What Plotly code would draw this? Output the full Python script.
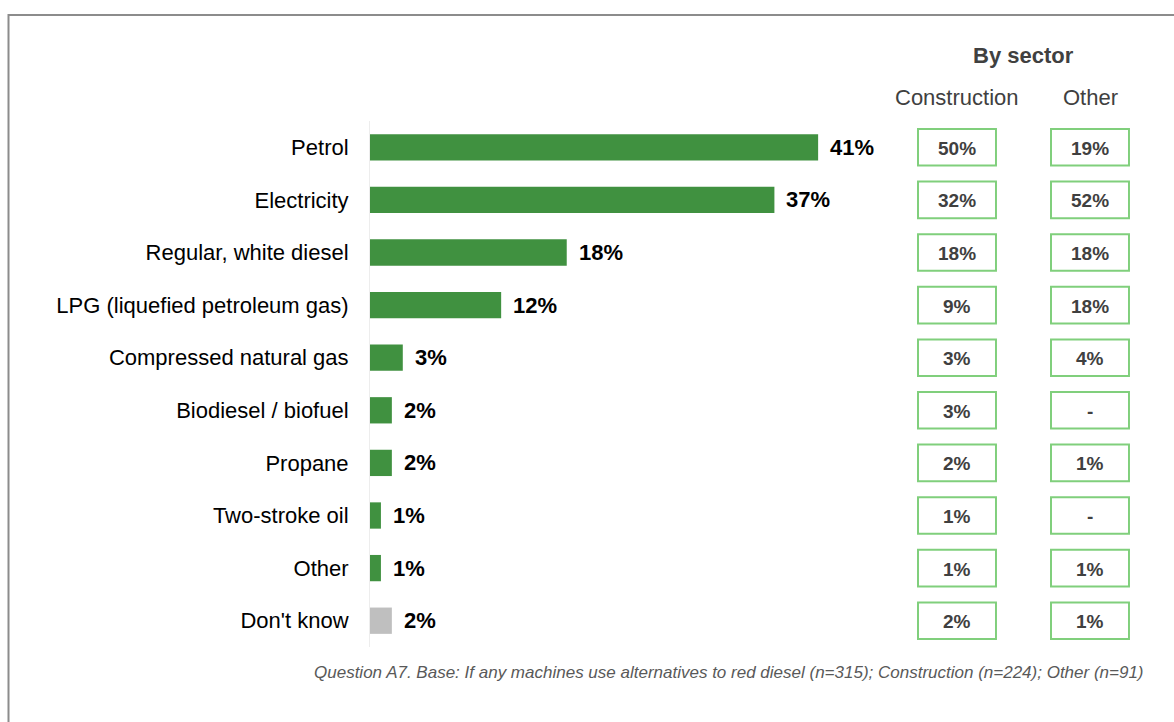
import plotly.graph_objects as go

# Fuel types used by machines, share of respondents
categories = [
    "Petrol",
    "Electricity",
    "Regular, white diesel",
    "LPG (liquefied petroleum gas)",
    "Compressed natural gas",
    "Biodiesel / biofuel",
    "Propane",
    "Two-stroke oil",
    "Other",
    "Don't know",
]
total_pct = [41, 37, 18, 12, 3, 2, 2, 1, 1, 2]
construction_pct = [50, 32, 18, 9, 3, 3, 2, 1, 1, 2]
other_pct = [19, 52, 18, 18, 4, None, 1, None, 1, 1]
sectors = ["Construction", "Other"]

footnote = ("Question A7. Base: If any machines use alternatives to red diesel (n=315); "
            "Construction (n=224); Other (n=91)")

FONT = "Liberation Sans, Arial, sans-serif"
GREEN = "#409140"
GREY_BAR = "#bfbfbf"
BOX_LINE = "#80cf7c"
DARK = "#404040"

W, H = 1174, 722
ML, MR, MT, MB = 370, 0, 120.7, 74.7
plot_w = W - ML - MR
plot_h = H - MT - MB
px_per_pct = 10.93

bar_colors = [GREY_BAR if c == "Don't know" else GREEN for c in categories]

def fmt(v):
    return "-" if v is None else f"{v}%"

# sector columns on a second, categorical x axis
col_left, col_right = 890.5, 1156.5
dom2 = [(col_left - ML) / plot_w, (col_right - ML) / plot_w]
dom1_end = 0.64

fig = go.Figure()
fig.add_trace(go.Bar(
    x=total_pct, y=categories, orientation="h",
    marker=dict(color=bar_colors, line=dict(width=0)),
    width=0.5, hoverinfo="skip", showlegend=False,
    xaxis="x", yaxis="y",
))

# invisible trace so the sector axis is laid out
fig.add_trace(go.Scatter(
    x=sectors, y=[categories[0]] * len(sectors), mode="markers",
    marker=dict(opacity=0), hoverinfo="skip", showlegend=False,
    xaxis="x2", yaxis="y",
))

annotations = []

# sector values inside outlined cells
for j, (sector, vals) in enumerate(zip(sectors, [construction_pct, other_pct])):
    for i, (c, v) in enumerate(zip(categories, vals)):
        fig.add_shape(
            type="rect", xref="x2", yref="y",
            x0=j - 0.293, x1=j + 0.293, y0=i - 0.348, y1=i + 0.348,
            line=dict(color=BOX_LINE, width=2), fillcolor="white", layer="below",
        )
        annotations.append(dict(
            x=sector, y=c, xref="x2", yref="y", text=f"<b>{fmt(v)}</b>",
            showarrow=False, xanchor="center", yanchor="middle", yshift=-1,
            font=dict(family=FONT, size=19, color=DARK),
        ))

# value labels at the end of each bar
for c, v in zip(categories, total_pct):
    annotations.append(dict(
        x=v, y=c, xref="x", yref="y", text=f"<b>{v}%</b>",
        showarrow=False, xanchor="left", yanchor="middle", xshift=10,
        font=dict(family=FONT, size=22, color="#000000"),
    ))

# column headings
annotations.append(dict(
    x=0.5, y=(H - MB - 55) / plot_h, xref="x2 domain", yref="paper",
    text="<b>By sector</b>", showarrow=False, xanchor="center", yanchor="middle",
    font=dict(family=FONT, size=22, color=DARK),
))
for s in sectors:
    annotations.append(dict(
        x=s, y=(H - MB - 97.5) / plot_h, xref="x2", yref="paper",
        text=s, showarrow=False, xanchor="center", yanchor="middle",
        font=dict(family=FONT, size=22, color=DARK),
    ))

annotations.append(dict(
    x=(1146 - ML) / plot_w, y=(H - MB - 673) / plot_h, xref="paper", yref="paper",
    text=f"<i>{footnote}</i>", showarrow=False, xanchor="right", yanchor="middle",
    font=dict(family=FONT, size=17, color="#595959"),
))

# outer frame
fig.add_shape(
    type="rect", xref="paper", yref="paper",
    x0=(8.5 - ML) / plot_w, x1=(W + 10 - ML) / plot_w,
    y0=(H - MB - (H + 10)) / plot_h, y1=(H - MB - 14.5) / plot_h,
    line=dict(color="#8c8c8c", width=2), layer="below",
)

fig.update_layout(
    width=W, height=H,
    margin=dict(l=ML, r=MR, t=MT, b=MB, pad=0),
    paper_bgcolor="white", plot_bgcolor="white",
    font=dict(family=FONT, size=22, color="#000000"),
    bargap=0.5,
    xaxis=dict(
        domain=[0, dom1_end], range=[0, dom1_end * plot_w / px_per_pct],
        visible=False, fixedrange=True,
    ),
    xaxis2=dict(
        domain=dom2, type="category", categoryorder="array", categoryarray=sectors,
        range=[-0.5, 1.5], anchor="y", visible=False, fixedrange=True,
    ),
    yaxis=dict(
        type="category", categoryorder="array", categoryarray=categories,
        range=[len(categories) - 0.5, -0.5], showgrid=False, zeroline=False,
        showline=True, linecolor="#ededed", linewidth=1,
        ticks="", ticklabelstandoff=16,
        tickfont=dict(family=FONT, size=22, color="#000000"),
        fixedrange=True,
    ),
    annotations=annotations,
)

fig.write_html("out.html")
